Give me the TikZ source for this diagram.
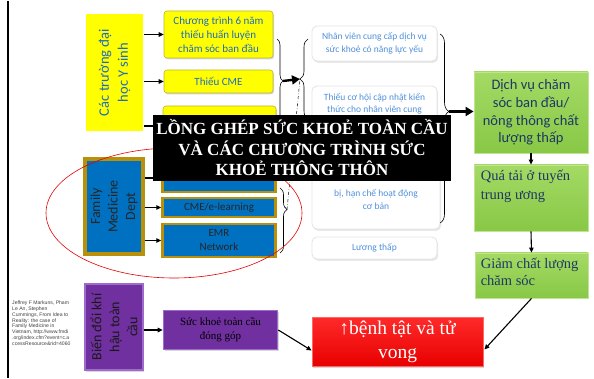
\documentclass[tikz,border=0pt]{standalone}
\usepackage{fontspec}
\setmainfont{Liberation Serif}
\newfontfamily\calib{Carlito}
\newfontfamily\arialf{Liberation Sans}
\usetikzlibrary{arrows.meta,shadows,decorations.pathreplacing,calc}
\definecolor{ylwtext}{HTML}{1F6BC0}
\definecolor{greytext}{HTML}{4F8FDB}
\definecolor{navytext}{HTML}{1F3864}
\definecolor{boxyellow}{HTML}{FFFF00}
\definecolor{fmblue}{HTML}{0070C0}
\definecolor{fmgold}{HTML}{B8900A}
\definecolor{grnlight}{HTML}{A4DA64}
\definecolor{grnmid}{HTML}{88C846}
\definecolor{purp}{HTML}{7030A0}
\definecolor{purplight}{HTML}{9E6ACB}
\definecolor{redtop}{HTML}{FF2A2A}
\definecolor{redbot}{HTML}{E80000}
\begin{document}
\begin{tikzpicture}[x=1pt,y=-1pt,
  arr/.style={-{Triangle[length=5pt,width=4.5pt]}, line width=1.1pt},
  bigarr/.style={-{Triangle[length=8pt,width=9pt]}, line width=2.4pt},
  softshadow/.style={drop shadow={opacity=0.3, shadow xshift=1pt, shadow yshift=-1.5pt}},
  ybox/.style={rectangle, rounded corners=3pt, fill=boxyellow, draw=yellow!70!black,
    line width=0.6pt, softshadow, inner sep=1pt, align=center, text=ylwtext,
    font=\calib\fontsize{11}{14}\selectfont},
  bbox/.style={rectangle, fill=fmblue, draw=fmgold, line width=2.5pt, softshadow,
    inner sep=1pt, align=center, text=black!85, font=\calib\fontsize{11}{14}\selectfont},
  gbox/.style={rectangle, rounded corners=5pt, fill=white, draw=gray!22, line width=0.8pt,
    drop shadow={opacity=0.18, shadow xshift=1.2pt, shadow yshift=-1.8pt},
    inner sep=1pt, align=center, text=greytext, font=\calib\fontsize{9.5}{12.7}\selectfont},
  grbox/.style={rectangle, top color=grnlight, bottom color=grnmid, draw=grnlight!70!white,
    line width=0.8pt, softshadow, inner sep=2pt, text=navytext},
  pbox/.style={rectangle, fill=purp, draw=purplight, line width=1.6pt, softshadow, inner sep=1pt},
  vlabel/.style={rotate=90, align=center, font=\calib\fontsize{14}{18.5}\selectfont}
]
% page frame
\path[fill=white] (0,0) rectangle (594,377);
\draw[line width=2pt] (8,0) -- (8,377);

% left column: origins
\node[rectangle, fill=boxyellow, draw=gray!35, double=white, double distance=2pt,
  minimum width=59pt, minimum height=119pt, inner sep=0pt] (ylw) at (114.5,71.5) {};
\node[vlabel, text=ylwtext, font=\calib\fontsize{14.5}{19}\selectfont] at (ylw.center) {Các trường đại\\học Y sinh};

\node[rectangle, fill=fmblue, draw=fmgold, line width=3.5pt, softshadow,
  minimum width=58pt, minimum height=95pt, inner sep=0pt] (fm) at (114,205.5) {};
\node[vlabel, text=black!85, font=\calib\fontsize{14}{17.5}\selectfont] at (fm.center) {Family\\Medicine\\Dept};

\node[pbox, minimum width=58pt, minimum height=86pt] (p1) at (114,326) {};
\node[vlabel, text=black!90, font=\calib\fontsize{14}{18}\selectfont] at (p1.center) {Biến đổi khí\\hậu toàn\\cầu};

% second column
\node[ybox, minimum width=109pt, minimum height=47pt] (y1) at (218.5,33.5) {Chương trình 6 năm\\thiếu huấn luyện\\chăm sóc ban đầu};
\node[ybox, minimum width=109pt, minimum height=23pt] (y2) at (218.5,80.5) {Thiếu CME};
\node[ybox, minimum width=113pt, minimum height=40pt] (y3) at (219.5,125) {};

\node[bbox, minimum width=113pt, minimum height=28pt] (b1) at (219,177) {};
\node[bbox, minimum width=113pt, minimum height=19pt] (b2) at (219,206.5) {CME/e-learning};
\node[bbox, minimum width=113pt, minimum height=33pt] (b3) at (219,239.5) {EMR\\Network};

\node[pbox, minimum width=114pt, minimum height=39pt, align=center,
  font=\fontsize{11}{14}\selectfont, text=black] (p2) at (220.5,329) {Sức khoẻ toàn cầu\\đóng góp};

% third column
\node[gbox, minimum width=125pt, minimum height=35pt] (g1) at (374.5,42.5) {Nhân viên cung cấp dịch vụ\\sức khoẻ có năng lực yếu};
\node[gbox, minimum width=125pt, minimum height=65pt] (g2) at (374.5,117.5) {};
\node[align=center, text=greytext, font=\calib\fontsize{9.5}{12.5}\selectfont, anchor=north] at ($(g2.north)+(0,4)$) {Thiếu cơ hội cập nhật kiến\\thức cho nhân viên cung};
\node[gbox, minimum width=128pt, minimum height=68pt] (g3) at (376,194) {};
\node[align=center, text=greytext, font=\calib\fontsize{9.5}{12.8}\selectfont] at (376,198.5) {bị, hạn chế hoạt động\\cơ bản};
\node[gbox, minimum width=125pt, minimum height=22pt] (g4) at (374.5,247) {Lương thấp};

% outcomes
\node[grbox, minimum width=114pt, minimum height=81pt, align=center,
  font=\calib\fontsize{14.5}{17.6}\selectfont] (gr1) at (531,111.5) {Dịch vụ chăm\\sóc ban đầu/\\nông thông chất\\lượng thấp};
\node[grbox, minimum width=114pt, minimum height=66pt] (gr2) at (531,197) {};
\node[anchor=north west, align=left, text=navytext, inner sep=0pt,
  font=\fontsize{14.5}{19}\selectfont] at ($(gr2.north west)+(7,5)$) {Quá tải ở tuyến\\trung ương};
\node[grbox, minimum width=113pt, minimum height=45pt] (gr3) at (531.5,274.5) {};
\node[anchor=north west, align=left, text=navytext, inner sep=0pt,
  font=\fontsize{14.5}{17.5}\selectfont] at ($(gr3.north west)+(6,5)$) {Giảm chất lượng\\chăm sóc};

\node[rectangle, top color=redtop, bottom color=redbot, draw=red!60!white, line width=0.8pt,
  softshadow, minimum width=171pt, minimum height=49pt, align=center, text=white,
  font=\fontsize{19.5}{24}\selectfont] (red) at (397.5,340.5) {↑bệnh tật và tử\\vong};

% source note
\node[anchor=north west, align=left, inner sep=0pt, text=black!75,
  font=\arialf\fontsize{5.1}{5.9}\selectfont] (src) at (12,299.5) {Jeffrey F Markuns, Pham\\Le An, Stephen\\Cummings, From Idea to\\Reality: the case of\\Family Medicine in\\Vietnam, http://www.fmdi\\.org/index.cfm?event=c.a\\ccessResource\&rid=4060};

% short arrows
\foreach \t in {y1,y2,y3} \draw[arr] (ylw.east |- \t.west) -- (\t.west);
\foreach \t in {b1,b2,b3} \draw[arr] (fm.east |- \t.west) -- (\t.west);
\draw[arr] (p1.east |- p2.west) -- (p2.west);
\draw[arr] (p2.east) -- ($(red.west)+(0,9)$);
\draw[arr] (gr1.south) -- (gr2.north);
\draw[arr] (gr2.south) -- (gr3.north);
\draw[arr] (gr3.south) -- ($(red.east)+(1,8)$);

% braces grouping the boxes
\coordinate (ytip) at (283,80);
\coordinate (gLtip) at (300,78);
\coordinate (gRtip) at (449,110.5);
\coordinate (btip) at (287,208.5);
\draw[decorate, decoration={brace, amplitude=6pt}, line width=0.6pt] (277,38) -- (277,122);
\draw[decorate, decoration={brace, amplitude=8pt}, line width=0.6pt] (308,118) -- (308,38);
\draw[decorate, decoration={brace, amplitude=9pt, aspect=0.41}, line width=0.6pt] (440,33) -- (440,222);
\draw[decorate, decoration={brace, amplitude=7pt, aspect=0.33}, line width=0.6pt] (280,187) -- (280,252);
\draw[bigarr] (ytip) -- (gLtip);
\draw[bigarr] (gRtip) -- (gr1.west |- gRtip);
\draw[dash dot, line width=0.5pt] (btip) -- (gLtip);

% highlight ring
\draw[red!90!black, line width=0.6pt] (174,212) ellipse [x radius=128, y radius=65];

% banner
\node[rectangle, fill=black, minimum width=296pt, minimum height=66pt, align=center,
  text=white, font=\bfseries\fontsize{17}{20.5}\selectfont] (title) at (302,147)
  {LỒNG GHÉP SỨC KHOẺ TOÀN CẦU\\VÀ CÁC CHƯƠNG TRÌNH SỨC\\KHOẺ THÔNG THÔN};
\end{tikzpicture}
\end{document}
